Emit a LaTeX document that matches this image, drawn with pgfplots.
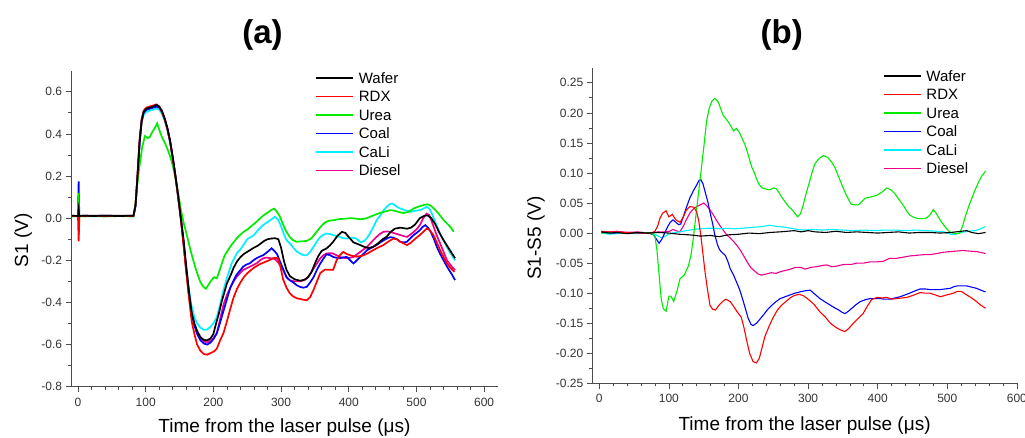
\documentclass[border=0pt]{standalone}
\usepackage{fontspec}
\setmainfont{Liberation Sans}
\usepackage{pgfplots}
\pgfplotsset{compat=1.18}

\definecolor{cgreen}{RGB}{0,235,0}
\definecolor{ccyan}{RGB}{0,240,255}

\pgfplotsset{
  originplot/.style={
    scale only axis,
    axis lines*=left,
    tick align=outside,
    major tick length=5.5pt,
    minor tick length=3pt,
    axis line style={black!70, line width=0.8pt},
    every tick/.style={black!70, line width=0.7pt},
    tick label style={font=\fontsize{12}{14}\selectfont, text=black!80},
    x tick label style={yshift=-2pt},
    /pgf/number format/assume math mode=true,
    label style={font=\fontsize{19}{22}\selectfont},
    xtick={0,100,...,600},
    minor x tick num=4,
    minor y tick num=1,
    reverse legend,
    legend cell align=left,
    legend style={draw=none, fill=none, inner sep=0pt, column sep=5pt, row sep=7.5pt,
      font=\fontsize{15}{18}\selectfont,
      nodes={inner sep=0pt, text height=11pt, text depth=0pt}},
    legend image code/.code={\draw[#1, line width=1.5pt] (0pt,0pt) -- (37pt,0pt);},
  }
}

\begin{document}
\begin{tikzpicture}

\node[font=\bfseries\fontsize{33}{36}\selectfont] at (262.5pt,402pt) {(a)};
\node[font=\bfseries\fontsize{33}{36}\selectfont] at (781.7pt,402pt) {(b)};

% ---------------- panel (a)
\begin{axis}[originplot,
  at={(71.2pt,50.3pt)}, anchor=south west,
  width=426.5pt, height=316pt,
  xmin=-10, xmax=620, ymin=-0.8, ymax=0.7,
  ytick={-0.8,-0.6,-0.4,-0.2,0,0.2,0.4,0.6},
  y tick label style={/pgf/number format/.cd, fixed, fixed zerofill, precision=1},
  xlabel={Time from the laser pulse (μs)},
  ylabel={S1 (V)},
  xlabel style={at={(axis description cs:0.5,0)}, anchor=center, yshift=-41pt},
  ylabel style={at={(axis description cs:0,0.464)}, anchor=center, yshift=48pt},
  legend style={at={(axis description cs:0.572,1)}, anchor=north west, yshift=-1.5pt},
  every axis plot/.append style={line width=1.7pt},
]
% Diesel
\addplot[magenta] coordinates {
(-9,0.012)(0,0.01)(1,0.01)(10,0.012)(20,0.01)(40,0.012)(60,0.01)(82,0.012)(85,0.06)(88,0.2)(91,0.36)(94,0.46)(97,0.5)(101,0.515)(106,0.52)(111,0.525)(116,0.53)(120,0.525)(124,0.505)(128,0.47)(132,0.425)(136,0.365)(140,0.285)(144,0.2)(148,0.1)(152,0.0)(156,-0.12)(160,-0.245)(164,-0.36)(168,-0.45)(172,-0.505)(176,-0.54)(181,-0.57)(186,-0.585)(191,-0.59)(196,-0.58)(200,-0.57)(205,-0.547)(210,-0.48)(215,-0.41)(220,-0.365)(225,-0.33)(230,-0.3)(234,-0.28)(239,-0.262)(244,-0.246)(249,-0.238)(254,-0.23)(259,-0.222)(264,-0.214)(269,-0.2)(274,-0.19)(279,-0.187)(284,-0.19)(289,-0.192)(293,-0.2)(298,-0.22)(303,-0.246)(308,-0.28)(313,-0.295)(320,-0.3)(328,-0.3)(333,-0.295)(338,-0.286)(343,-0.265)(348,-0.24)(353,-0.215)(358,-0.19)(363,-0.175)(367,-0.168)(372,-0.166)(377,-0.168)(382,-0.176)(387,-0.184)(392,-0.188)(397,-0.19)(402,-0.188)(407,-0.184)(412,-0.172)(417,-0.16)(422,-0.148)(427,-0.136)(434,-0.112)(441,-0.089)(446,-0.075)(451,-0.065)(456,-0.063)(461,-0.065)(466,-0.07)(471,-0.075)(476,-0.08)(481,-0.085)(486,-0.089)(491,-0.078)(496,-0.065)(501,-0.05)(505,-0.033)(510,0.0)(515,0.022)(519,0.015)(523,-0.02)(527,-0.055)(531,-0.09)(535,-0.12)(540,-0.16)(545,-0.2)(551,-0.225)(557,-0.247)
};
\addlegendentry{Diesel}
% CaLi
\addplot[ccyan] coordinates {
(-9,0.01)(0,0.01)(1,0.012)(10,0.01)(20,0.012)(40,0.01)(60,0.012)(82,0.01)(85,0.055)(88,0.19)(91,0.35)(94,0.45)(97,0.49)(101,0.505)(106,0.51)(111,0.515)(116,0.52)(120,0.515)(124,0.495)(128,0.465)(132,0.42)(136,0.36)(140,0.285)(144,0.2)(148,0.1)(152,0.0)(156,-0.115)(160,-0.235)(164,-0.34)(168,-0.42)(172,-0.47)(176,-0.5)(181,-0.52)(186,-0.53)(191,-0.528)(196,-0.515)(201,-0.495)(205,-0.47)(210,-0.41)(215,-0.34)(219,-0.295)(223,-0.255)(227,-0.215)(231,-0.19)(235,-0.165)(240,-0.148)(245,-0.125)(250,-0.1)(255,-0.09)(260,-0.08)(265,-0.06)(271,-0.04)(277,-0.025)(284,-0.01)(291,0.007)(295,-0.005)(299,-0.03)(304,-0.075)(308,-0.104)(313,-0.12)(318,-0.14)(323,-0.158)(328,-0.168)(333,-0.176)(338,-0.176)(343,-0.16)(348,-0.136)(353,-0.11)(358,-0.089)(363,-0.078)(367,-0.073)(372,-0.075)(377,-0.08)(382,-0.085)(387,-0.089)(392,-0.095)(397,-0.097)(404,-0.093)(410,-0.095)(418,-0.115)(424,-0.105)(430,-0.08)(436,-0.045)(441,-0.01)(446,0.01)(451,0.035)(456,0.054)(460,0.065)(464,0.07)(468,0.062)(472,0.052)(476,0.046)(483,0.038)(491,0.03)(498,0.035)(505,0.038)(510,0.045)(515,0.054)(519,0.045)(523,0.02)(528,-0.02)(533,-0.06)(538,-0.095)(543,-0.125)(548,-0.155)(553,-0.18)(557,-0.2)
};
\addlegendentry{CaLi}
% Coal
\addplot[blue] coordinates {
(-9,0.01)(0,0.01)(1,0.175)(2,0.01)(10,0.012)(20,0.01)(40,0.012)(60,0.01)(82,0.01)(85,0.06)(88,0.2)(91,0.36)(94,0.46)(97,0.5)(101,0.515)(106,0.52)(111,0.525)(116,0.53)(120,0.525)(124,0.505)(128,0.47)(132,0.425)(136,0.365)(140,0.285)(144,0.2)(148,0.1)(152,0.0)(156,-0.12)(160,-0.245)(164,-0.36)(168,-0.455)(172,-0.51)(176,-0.55)(181,-0.58)(186,-0.595)(191,-0.6)(196,-0.59)(200,-0.575)(205,-0.547)(210,-0.495)(215,-0.44)(220,-0.385)(225,-0.33)(230,-0.295)(234,-0.27)(239,-0.25)(244,-0.23)(249,-0.22)(254,-0.214)(259,-0.2)(264,-0.19)(269,-0.182)(274,-0.175)(280,-0.16)(286,-0.143)(290,-0.155)(294,-0.17)(299,-0.21)(303,-0.24)(308,-0.28)(313,-0.295)(318,-0.305)(323,-0.318)(328,-0.326)(333,-0.33)(338,-0.326)(343,-0.305)(348,-0.28)(353,-0.245)(358,-0.215)(363,-0.19)(367,-0.172)(372,-0.175)(377,-0.184)(382,-0.188)(387,-0.19)(392,-0.186)(397,-0.184)(402,-0.2)(407,-0.215)(412,-0.2)(417,-0.184)(422,-0.168)(427,-0.152)(434,-0.14)(441,-0.128)(448,-0.112)(456,-0.097)(461,-0.09)(466,-0.092)(471,-0.1)(476,-0.112)(481,-0.115)(486,-0.112)(491,-0.095)(496,-0.08)(501,-0.068)(505,-0.057)(509,-0.042)(513,-0.033)(517,-0.045)(521,-0.065)(526,-0.1)(530,-0.136)(535,-0.17)(540,-0.2)(546,-0.235)(552,-0.265)(557,-0.294)
};
\addlegendentry{Coal}
% Urea
\addplot[cgreen] coordinates {
(-9,0.008)(0,0.01)(1,0.12)(1.5,-0.08)(2,0.01)(10,0.008)(20,0.01)(40,0.008)(60,0.01)(82,0.008)(85,0.07)(88,0.17)(91,0.25)(95,0.34)(99,0.39)(103,0.38)(106,0.385)(109,0.405)(113,0.425)(117,0.45)(120,0.42)(124,0.385)(128,0.36)(132,0.33)(136,0.295)(140,0.25)(144,0.19)(148,0.12)(152,0.04)(156,-0.02)(160,-0.07)(165,-0.136)(169,-0.185)(173,-0.23)(177,-0.27)(181,-0.305)(185,-0.325)(189,-0.335)(193,-0.315)(197,-0.295)(201,-0.28)(205,-0.286)(209,-0.25)(213,-0.21)(217,-0.175)(221,-0.155)(226,-0.13)(231,-0.11)(236,-0.09)(241,-0.075)(246,-0.062)(251,-0.052)(256,-0.038)(261,-0.025)(266,-0.01)(271,0.005)(276,0.018)(281,0.028)(286,0.04)(290,0.045)(294,0.03)(298,0.01)(303,-0.03)(308,-0.065)(313,-0.09)(318,-0.105)(323,-0.112)(330,-0.11)(338,-0.108)(345,-0.095)(350,-0.075)(355,-0.055)(360,-0.035)(365,-0.02)(371,-0.012)(377,-0.01)(385,-0.005)(395,-0.002)(405,0.0)(417,-0.005)(425,-0.002)(431,0.006)(438,0.015)(446,0.025)(454,0.032)(461,0.038)(467,0.036)(473,0.03)(481,0.024)(488,0.03)(496,0.046)(503,0.055)(510,0.062)(516,0.066)(521,0.06)(526,0.045)(531,0.028)(536,0.008)(541,-0.012)(546,-0.028)(551,-0.045)(555,-0.065)
};
\addlegendentry{Urea}
% RDX
\addplot[red] coordinates {
(-9,0.01)(0,0.01)(1,-0.11)(2,0.01)(10,0.01)(20,0.012)(40,0.01)(60,0.012)(82,0.01)(85,0.06)(88,0.21)(91,0.37)(94,0.47)(97,0.51)(101,0.525)(106,0.53)(111,0.535)(116,0.54)(120,0.53)(124,0.505)(128,0.47)(132,0.425)(136,0.365)(140,0.285)(144,0.195)(148,0.1)(152,-0.01)(156,-0.13)(160,-0.26)(164,-0.38)(168,-0.49)(172,-0.55)(176,-0.6)(181,-0.63)(186,-0.645)(191,-0.648)(196,-0.64)(201,-0.632)(205,-0.62)(210,-0.58)(215,-0.545)(220,-0.49)(225,-0.43)(230,-0.375)(235,-0.335)(240,-0.305)(245,-0.28)(250,-0.262)(255,-0.248)(260,-0.235)(265,-0.225)(270,-0.216)(275,-0.21)(280,-0.203)(285,-0.196)(290,-0.188)(295,-0.19)(299,-0.23)(303,-0.29)(308,-0.33)(313,-0.357)(318,-0.372)(323,-0.38)(330,-0.385)(338,-0.39)(343,-0.375)(348,-0.34)(353,-0.3)(358,-0.26)(365,-0.244)(372,-0.245)(377,-0.245)(382,-0.2)(387,-0.175)(392,-0.16)(397,-0.17)(402,-0.176)(407,-0.18)(412,-0.183)(417,-0.18)(422,-0.176)(429,-0.165)(436,-0.152)(443,-0.14)(451,-0.128)(458,-0.112)(466,-0.097)(471,-0.1)(476,-0.112)(481,-0.12)(486,-0.128)(491,-0.118)(496,-0.104)(501,-0.09)(505,-0.08)(510,-0.065)(515,-0.05)(519,-0.055)(525,-0.08)(530,-0.115)(535,-0.152)(540,-0.185)(545,-0.215)(550,-0.235)(556,-0.255)
};
\addlegendentry{RDX}
% Wafer
\addplot[black] coordinates {
(-9,0.012)(0,0.01)(1,0.04)(2,0.01)(10,0.012)(20,0.01)(40,0.012)(60,0.01)(82,0.012)(85,0.06)(88,0.2)(91,0.36)(94,0.46)(97,0.505)(101,0.52)(106,0.525)(111,0.53)(116,0.538)(120,0.53)(124,0.51)(128,0.475)(132,0.43)(136,0.37)(140,0.29)(144,0.2)(148,0.11)(152,0.0)(156,-0.1)(160,-0.23)(164,-0.35)(168,-0.45)(172,-0.5)(176,-0.535)(181,-0.565)(186,-0.578)(191,-0.58)(196,-0.57)(200,-0.55)(204,-0.5)(208,-0.455)(212,-0.4)(216,-0.355)(220,-0.31)(225,-0.275)(230,-0.235)(235,-0.205)(240,-0.185)(245,-0.17)(250,-0.16)(255,-0.15)(260,-0.14)(265,-0.132)(270,-0.12)(275,-0.108)(280,-0.1)(285,-0.097)(291,-0.095)(296,-0.1)(300,-0.14)(304,-0.2)(308,-0.245)(313,-0.275)(320,-0.29)(328,-0.297)(335,-0.292)(340,-0.28)(345,-0.255)(350,-0.215)(355,-0.18)(360,-0.155)(367,-0.144)(372,-0.13)(377,-0.112)(383,-0.085)(390,-0.065)(395,-0.07)(400,-0.09)(407,-0.115)(415,-0.125)(422,-0.135)(429,-0.142)(436,-0.136)(443,-0.12)(450,-0.1)(456,-0.088)(462,-0.065)(468,-0.05)(476,-0.045)(486,-0.05)(492,-0.045)(498,-0.03)(505,0.0)(512,0.012)(517,0.012)(522,0.0)(528,-0.03)(534,-0.07)(540,-0.104)(546,-0.135)(552,-0.165)(557,-0.19)
};
\addlegendentry{Wafer}
\end{axis}

% ---------------- panel (b)
\begin{axis}[originplot,
  at={(592.3pt,53.7pt)}, anchor=south west,
  width=424.6pt, height=315.5pt,
  xmin=-10, xmax=600, ymin=-0.25, ymax=0.275,
  ytick={-0.25,-0.2,-0.15,-0.1,-0.05,0,0.05,0.1,0.15,0.2,0.25},
  y tick label style={/pgf/number format/.cd, fixed, fixed zerofill, precision=2},
  xlabel={Time from the laser pulse (μs)},
  ylabel={S1-S5 (V)},
  xlabel style={at={(axis description cs:0.5,0)}, anchor=center, yshift=-42pt},
  ylabel style={at={(axis description cs:0,0.46)}, anchor=center, yshift=56.3pt},
  legend style={at={(axis description cs:0.684,1)}, anchor=north west, yshift=-2.3pt},
  every axis plot/.append style={line width=1.1pt},
]
% Diesel
\addplot[magenta] coordinates {
(3,0.003)(15,0.002)(25,0.003)(40,0.001)(55,0.002)(70,0.0)(85,0.002)(95,0.002)(101,0.003)(106,0.006)(110,0.004)(116,0.002)(120,0.01)(125,0.022)(130,0.033)(135,0.04)(140,0.044)(145,0.047)(150,0.05)(154,0.046)(158,0.04)(163,0.032)(168,0.022)(173,0.013)(178,0.005)(183,-0.003)(188,-0.008)(193,-0.014)(198,-0.021)(203,-0.029)(208,-0.039)(213,-0.049)(218,-0.058)(223,-0.063)(228,-0.068)(233,-0.07)(240,-0.068)(247,-0.066)(254,-0.067)(261,-0.064)(268,-0.062)(275,-0.06)(282,-0.057)(289,-0.057)(296,-0.06)(304,-0.057)(312,-0.056)(320,-0.054)(327,-0.053)(334,-0.056)(341,-0.055)(348,-0.053)(355,-0.052)(363,-0.052)(370,-0.05)(380,-0.05)(389,-0.048)(398,-0.048)(408,-0.047)(417,-0.042)(427,-0.042)(437,-0.04)(447,-0.038)(456,-0.037)(466,-0.036)(475,-0.036)(485,-0.034)(494,-0.032)(503,-0.031)(513,-0.03)(522,-0.029)(532,-0.03)(543,-0.031)(555,-0.034)
};
\addlegendentry{Diesel}
% CaLi
\addplot[ccyan] coordinates {
(3,0.0)(15,-0.002)(30,0.0)(50,-0.001)(70,0.0)(80,-0.002)(86,-0.006)(90,-0.008)(95,-0.005)(100,-0.002)(105,0.0)(115,0.002)(125,0.004)(135,0.006)(145,0.007)(155,0.008)(165,0.008)(175,0.007)(185,0.008)(195,0.007)(205,0.008)(215,0.009)(225,0.01)(235,0.011)(245,0.013)(255,0.011)(265,0.01)(275,0.008)(285,0.006)(295,0.005)(305,0.006)(320,0.005)(335,0.006)(350,0.005)(365,0.004)(380,0.005)(395,0.004)(410,0.005)(425,0.005)(440,0.004)(455,0.005)(470,0.004)(485,0.003)(495,0.002)(505,-0.002)(512,-0.002)(520,0.001)(530,0.003)(540,0.004)(548,0.007)(555,0.011)
};
\addlegendentry{CaLi}
% Coal
\addplot[blue] coordinates {
(3,0.001)(20,0.0)(40,0.001)(60,0.0)(72,0.0)(78,-0.003)(82,-0.01)(86,-0.017)(90,-0.01)(94,0.0)(98,0.01)(102,0.018)(106,0.022)(110,0.018)(114,0.014)(117,0.015)(121,0.028)(125,0.042)(130,0.058)(135,0.07)(140,0.08)(143,0.087)(146,0.089)(149,0.082)(152,0.069)(156,0.052)(159,0.035)(163,0.015)(166,-0.003)(170,-0.02)(173,-0.028)(177,-0.033)(181,-0.037)(185,-0.048)(188,-0.059)(193,-0.07)(197,-0.081)(202,-0.095)(207,-0.114)(211,-0.13)(214,-0.142)(218,-0.152)(221,-0.154)(226,-0.15)(231,-0.143)(236,-0.136)(242,-0.127)(248,-0.12)(254,-0.114)(260,-0.109)(267,-0.106)(274,-0.103)(281,-0.1)(288,-0.098)(296,-0.096)(303,-0.095)(310,-0.102)(317,-0.109)(325,-0.115)(332,-0.12)(339,-0.125)(344,-0.128)(349,-0.132)(353,-0.134)(358,-0.13)(363,-0.125)(369,-0.119)(375,-0.114)(382,-0.111)(389,-0.109)(396,-0.109)(403,-0.109)(410,-0.11)(418,-0.11)(425,-0.108)(432,-0.106)(439,-0.103)(446,-0.1)(454,-0.096)(461,-0.093)(468,-0.093)(475,-0.094)(483,-0.094)(490,-0.094)(497,-0.093)(504,-0.092)(510,-0.089)(514,-0.088)(521,-0.088)(528,-0.088)(535,-0.09)(542,-0.092)(548,-0.095)(555,-0.098)
};
\addlegendentry{Coal}
% Urea
\addplot[cgreen] coordinates {
(3,0.0)(20,0.001)(40,0.0)(60,0.001)(75,0.0)(80,-0.005)(83,-0.03)(86,-0.07)(89,-0.11)(92,-0.126)(96,-0.13)(100,-0.105)(103,-0.105)(107,-0.114)(112,-0.095)(116,-0.076)(122,-0.07)(128,-0.055)(132,-0.035)(135,-0.01)(140,0.041)(145,0.091)(150,0.141)(154,0.185)(158,0.208)(162,0.22)(166,0.224)(171,0.218)(175,0.205)(178,0.196)(182,0.19)(186,0.184)(190,0.176)(193,0.17)(197,0.174)(201,0.168)(205,0.158)(209,0.148)(212,0.138)(216,0.122)(219,0.11)(223,0.1)(226,0.09)(230,0.08)(234,0.075)(240,0.073)(245,0.072)(250,0.075)(254,0.074)(258,0.068)(262,0.06)(267,0.052)(272,0.044)(276,0.04)(281,0.033)(285,0.027)(289,0.032)(293,0.047)(297,0.065)(302,0.085)(306,0.102)(310,0.116)(316,0.124)(322,0.129)(328,0.126)(334,0.118)(339,0.108)(343,0.096)(348,0.082)(353,0.068)(358,0.056)(362,0.048)(367,0.047)(372,0.047)(377,0.052)(382,0.058)(390,0.06)(399,0.063)(406,0.068)(413,0.075)(419,0.072)(425,0.065)(431,0.055)(437,0.046)(441,0.038)(446,0.03)(452,0.026)(458,0.024)(464,0.024)(470,0.025)(475,0.03)(480,0.039)(484,0.033)(488,0.025)(492,0.018)(497,0.01)(503,0.002)(508,0.0)(513,-0.001)(518,0.0)(522,0.012)(526,0.028)(531,0.045)(536,0.06)(540,0.072)(545,0.085)(550,0.096)(555,0.103)
};
\addlegendentry{Urea}
% RDX
\addplot[red] coordinates {
(3,0.002)(20,0.002)(40,0.001)(60,0.0)(75,0.0)(80,0.003)(84,0.012)(87,0.024)(91,0.033)(96,0.037)(100,0.027)(105,0.031)(110,0.022)(116,0.018)(120,0.025)(125,0.038)(130,0.044)(136,0.043)(140,0.035)(143,0.02)(146,-0.005)(149,-0.035)(152,-0.065)(155,-0.09)(159,-0.12)(163,-0.127)(167,-0.128)(172,-0.12)(177,-0.114)(182,-0.11)(188,-0.114)(193,-0.122)(198,-0.131)(204,-0.14)(208,-0.158)(212,-0.18)(216,-0.2)(221,-0.214)(226,-0.216)(230,-0.208)(234,-0.19)(238,-0.172)(244,-0.155)(250,-0.14)(256,-0.128)(262,-0.12)(268,-0.114)(274,-0.108)(280,-0.104)(287,-0.102)(293,-0.104)(300,-0.11)(308,-0.118)(317,-0.131)(325,-0.14)(332,-0.15)(340,-0.157)(346,-0.161)(353,-0.164)(359,-0.158)(365,-0.15)(372,-0.142)(379,-0.134)(385,-0.122)(391,-0.111)(399,-0.107)(406,-0.108)(413,-0.107)(420,-0.11)(427,-0.109)(435,-0.108)(442,-0.107)(450,-0.104)(461,-0.099)(468,-0.1)(475,-0.1)(483,-0.103)(490,-0.106)(499,-0.103)(509,-0.1)(514,-0.097)(520,-0.097)(528,-0.103)(535,-0.108)(542,-0.114)(548,-0.12)(555,-0.125)
};
\addlegendentry{RDX}
% Wafer
\addplot[black] coordinates {
(3,0.002)(15,0.0)(25,0.001)(40,-0.001)(55,0.001)(70,0.0)(85,0.001)(100,0.0)(115,-0.002)(130,-0.003)(145,-0.005)(160,-0.004)(172,-0.006)(185,-0.003)(200,-0.002)(215,0.0)(230,-0.001)(245,0.001)(260,0.002)(270,0.003)(280,0.004)(290,0.002)(300,0.004)(310,0.002)(325,0.001)(340,0.003)(355,0.001)(370,0.002)(385,0.001)(400,0.0)(415,0.001)(430,0.002)(445,0.0)(460,0.001)(475,0.001)(490,0.0)(505,0.001)(520,0.003)(528,0.004)(535,0.001)(545,-0.001)(555,0.001)
};
\addlegendentry{Wafer}
\end{axis}

\pgfresetboundingbox
\useasboundingbox (0pt,0pt) rectangle (1025pt,437pt);
\end{tikzpicture}
\end{document}
